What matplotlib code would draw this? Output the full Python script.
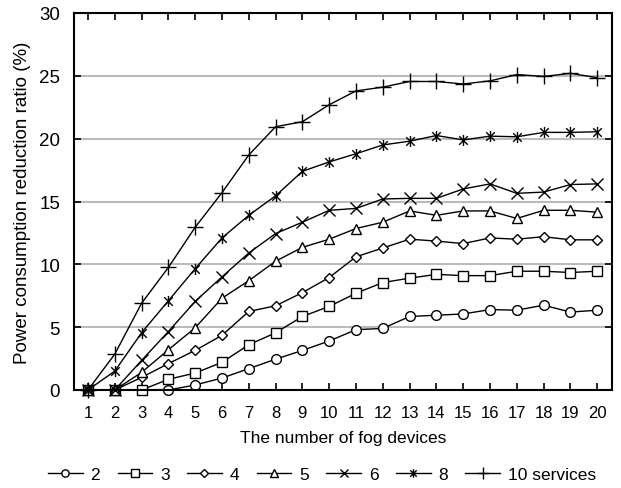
import matplotlib.pyplot as plt
from matplotlib.path import Path

plt.rcParams['font.family'] = ['Liberation Sans', 'DejaVu Sans']

devices = list(range(1, 21))
s2 = [0, 0, 0, 0, 0.4, 0.95, 1.7, 2.45, 3.15, 3.9, 4.8, 4.9, 5.85, 5.95, 6.05, 6.4, 6.35, 6.75, 6.2, 6.35]
s3 = [0, 0, 0, 0.85, 1.35, 2.2, 3.6, 4.55, 5.85, 6.65, 7.7, 8.55, 8.9, 9.2, 9.1, 9.1, 9.45, 9.45, 9.35, 9.45]
s4 = [0, 0, 1.0, 2.1, 3.15, 4.35, 6.25, 6.7, 7.75, 8.95, 10.6, 11.3, 12.0, 11.85, 11.65, 12.1, 12.0, 12.2, 11.95, 11.95]
s5 = [0, 0, 1.4, 3.2, 4.95, 7.3, 8.7, 10.25, 11.35, 12.0, 12.85, 13.35, 14.25, 13.9, 14.25, 14.25, 13.65, 14.3, 14.3, 14.15]
s6 = [0, 0, 2.35, 4.65, 7.05, 9.0, 10.9, 12.45, 13.35, 14.3, 14.45, 15.2, 15.25, 15.25, 16.0, 16.4, 15.65, 15.75, 16.35, 16.4]
s8 = [0, 1.5, 4.55, 7.1, 9.65, 12.1, 13.9, 15.45, 17.4, 18.15, 18.8, 19.5, 19.8, 20.25, 19.9, 20.2, 20.15, 20.5, 20.5, 20.55]
s10 = [0, 2.85, 6.9, 9.75, 12.95, 15.7, 18.7, 20.95, 21.35, 22.7, 23.8, 24.1, 24.55, 24.55, 24.35, 24.6, 25.1, 24.95, 25.2, 24.85]
labels = ['2', '3', '4', '5', '6', '8', '10 services']

# asterisk marker: x with a vertical bar
star = Path([(-1, -1), (1, 1), (-1, 1), (1, -1), (0, -1.3), (0, 1.3)],
            [Path.MOVETO, Path.LINETO, Path.MOVETO, Path.LINETO, Path.MOVETO, Path.LINETO])
markers = ['o', 's', 'D', '^', 'x', star, '+']
sizes = [7, 7, 5.5, 7.5, 8, 8, 11]

fig = plt.figure(figsize=(6.21, 4.89), dpi=100)
ax = fig.add_axes([74/621, 1 - 391/489, 538/621, 377/489])

for ys, m, ms, lab in zip([s2, s3, s4, s5, s6, s8, s10], markers, sizes, labels):
    ax.plot(devices, ys, color='black', lw=1, marker=m, ms=ms, mfc='white', mec='black',
            mew=1, label=lab, clip_on=False)

ax.set_xlim(0.48, 20.55)
ax.set_ylim(0, 30)
ax.set_xticks(devices)
ax.set_yticks(range(0, 31, 5))
ax.yaxis.grid(True, color='#bbbbbb', lw=1.5)
ax.set_axisbelow(True)
ax.tick_params(direction='in', top=True, right=True, labelsize=12, length=5, width=1.2)
ax.tick_params(axis='x', pad=11)
ax.tick_params(axis='y', pad=10, labelsize=13.5)
for sp in ax.spines.values():
    sp.set_linewidth(1.5)
ax.set_xlabel('The number of fog devices', fontsize=12.5, labelpad=7)
ax.set_ylabel('Power consumption reduction ratio (%)', fontsize=13.5, labelpad=6)

leg = ax.legend(loc='center', bbox_to_anchor=(0.461, -0.223), ncol=7, frameon=False,
                fontsize=12.5, handlelength=2.0, handletextpad=0.45, columnspacing=1.0,
                markerscale=0.75)

fig.savefig('out.png', dpi=100)
